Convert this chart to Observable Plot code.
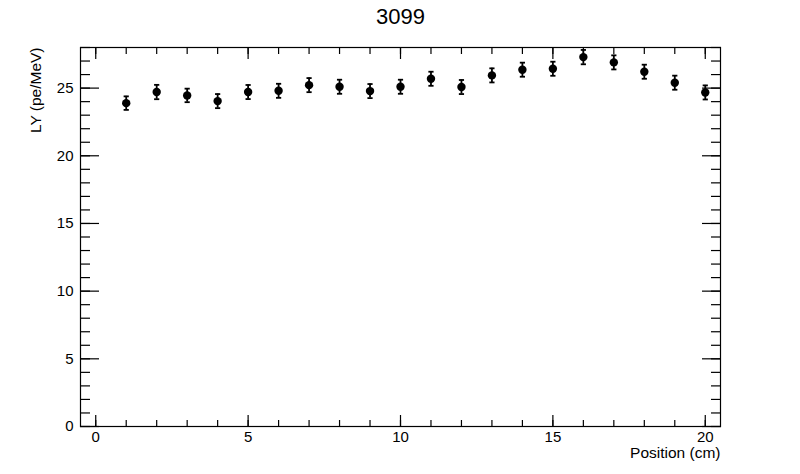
<!DOCTYPE html>
<html>
<head>
<meta charset="utf-8">
<script src="https://cdn.jsdelivr.net/npm/d3@7"></script>
<script src="https://cdn.jsdelivr.net/npm/@observablehq/plot@0.6"></script>
<style>
  html, body { margin: 0; padding: 0; background: #fff; }
  #chart svg { display: block; }
</style>
</head>
<body>
<div id="chart"></div>
<script>
const title = "3099";
const xTitle = "Position (cm)";
const yTitle = "LY (pe/MeV)";
const positions = [1,2,3,4,5,6,7,8,9,10,11,12,13,14,15,16,17,18,19,20];
const lightYield = [23.89,24.71,24.46,24.04,24.71,24.80,25.22,25.10,24.78,25.10,25.69,25.08,25.94,26.36,26.43,27.29,26.90,26.21,25.40,24.68];
const lyError = [0.50,0.53,0.50,0.52,0.52,0.52,0.52,0.52,0.52,0.52,0.52,0.52,0.52,0.52,0.52,0.53,0.52,0.52,0.52,0.52];
const xDomain = [-0.5, 20.5];
const yDomain = [0, 28];
const xMajor = [0,5,10,15,20];
const xMinor = d3.range(0, 21);
const yMajor = [0,5,10,15,20,25];
const yMinor = d3.range(0, 29);

const data = positions.map((x, i) => ({x, y: lightYield[i], lo: lightYield[i] - lyError[i], hi: lightYield[i] + lyError[i]}));

const capSymbol = {
  draw(ctx, size) {
    const w = Math.sqrt(size / Math.PI);
    ctx.moveTo(-w, 0);
    ctx.lineTo(w, 0);
  }
};

const font = "'Liberation Sans', Arial, Helvetica, sans-serif";

const chart = Plot.plot({
  width: 800,
  height: 474,
  marginLeft: 80,
  marginRight: 80,
  marginTop: 47,
  marginBottom: 48,
  style: {fontFamily: font, background: "#fff", color: "#000"},
  x: {domain: xDomain},
  y: {domain: yDomain},
  marks: [
    Plot.frame({stroke: "#000", strokeWidth: 1.2}),
    // bottom ticks
    Plot.axisX({anchor: "bottom", ticks: xMajor, tickSize: -11, text: null, label: null, strokeWidth: 1.2}),
    Plot.axisX({anchor: "bottom", ticks: xMinor, tickSize: -6, text: null, label: null, strokeWidth: 1.2}),
    Plot.axisX({anchor: "bottom", ticks: xMajor, tickSize: 0, tickPadding: 5, fontSize: 15, label: null, tickFormat: d3.format("d")}),
    // top ticks
    Plot.axisX({anchor: "top", ticks: xMajor, tickSize: -11, text: null, label: null, strokeWidth: 1.2}),
    Plot.axisX({anchor: "top", ticks: xMinor, tickSize: -6, text: null, label: null, strokeWidth: 1.2}),
    // left ticks
    Plot.axisY({anchor: "left", ticks: yMajor, tickSize: -19, text: null, label: null, strokeWidth: 1.2}),
    Plot.axisY({anchor: "left", ticks: yMinor, tickSize: -10, text: null, label: null, strokeWidth: 1.2}),
    Plot.axisY({anchor: "left", ticks: yMajor, tickSize: 0, tickPadding: 7, fontSize: 15, label: null, tickFormat: d3.format("d")}),
    // right ticks
    Plot.axisY({anchor: "right", ticks: yMajor, tickSize: -19, text: null, label: null, strokeWidth: 1.2}),
    Plot.axisY({anchor: "right", ticks: yMinor, tickSize: -10, text: null, label: null, strokeWidth: 1.2}),
    // titles
    Plot.text([title], {frameAnchor: "top", dy: -31, fontSize: 22, lineAnchor: "middle", fill: "#000"}),
    Plot.text([xTitle], {frameAnchor: "bottom-right", dy: 27, textAnchor: "end", lineAnchor: "middle", fontSize: 15.5, fill: "#000"}),
    Plot.text([yTitle], {frameAnchor: "top-left", dx: -44, rotate: -90, textAnchor: "end", lineAnchor: "middle", fontSize: 15.5, fill: "#000"}),
    // error bars
    Plot.ruleX(data, {x: "x", y1: "lo", y2: "hi", stroke: "#000", strokeWidth: 1.8}),
    Plot.dot(data, {x: "x", y: "lo", symbol: capSymbol, r: 2.6, stroke: "#000", strokeWidth: 1.8, fill: "none"}),
    Plot.dot(data, {x: "x", y: "hi", symbol: capSymbol, r: 2.6, stroke: "#000", strokeWidth: 1.8, fill: "none"}),
    Plot.dot(data, {x: "x", y: "y", r: 4.2, fill: "#000", stroke: "none"})
  ]
});
document.getElementById("chart").appendChild(chart);
</script>
</body>
</html>
